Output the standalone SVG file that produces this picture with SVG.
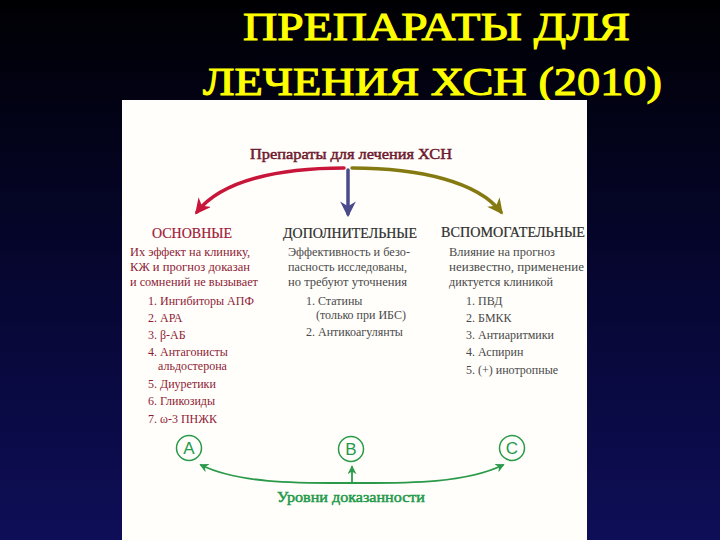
<svg xmlns="http://www.w3.org/2000/svg" width="720" height="540" viewBox="0 0 720 540">
<defs>
<linearGradient id="bg" x1="0" y1="0" x2="0" y2="1">
<stop offset="0" stop-color="#000003"/>
<stop offset="0.5" stop-color="#060630"/>
<stop offset="1" stop-color="#0e0e58"/>
</linearGradient>
<marker id="mRed" viewBox="0 0 10 10" refX="8" refY="5" markerWidth="4.5" markerHeight="4.5" orient="auto" markerUnits="strokeWidth"><path d="M0,0 L10,5 L0,10 L3,5 Z" fill="#c8163a"/></marker>
<marker id="mBlue" viewBox="0 0 10 10" refX="8" refY="5" markerWidth="4.5" markerHeight="4.5" orient="auto" markerUnits="strokeWidth"><path d="M0,0 L10,5 L0,10 L3,5 Z" fill="#4a4a8c"/></marker>
<marker id="mOlive" viewBox="0 0 10 10" refX="8" refY="5" markerWidth="4.5" markerHeight="4.5" orient="auto" markerUnits="strokeWidth"><path d="M0,0 L10,5 L0,10 L3,5 Z" fill="#857a12"/></marker>
<marker id="mGreen" viewBox="0 0 10 10" refX="8" refY="5" markerWidth="5" markerHeight="5" orient="auto" markerUnits="strokeWidth"><path d="M0,0 L10,5 L0,10 L3,5 Z" fill="#2a9a4a"/></marker>
</defs>
<style>
.title{font-family:"Liberation Serif","Times New Roman",serif;font-size:41px;fill:#ffff00;stroke:#ffff00;stroke-width:1.1;stroke-linejoin:miter}
.head{font-family:"Liberation Serif","Times New Roman",serif;font-size:15px;fill:#6e1a30;stroke:#6e1a30;stroke-width:0.5}
.colh{font-family:"Liberation Serif","Times New Roman",serif;font-size:14px;stroke-width:0.2}
.d{font-family:"Liberation Serif","Times New Roman",serif;font-size:12.5px}
.it{font-family:"Liberation Serif","Times New Roman",serif;font-size:12px}
.c1{fill:#a01838;stroke:#a01838}
.c1d{fill:#8e1c36}
.c2{fill:#2e2e2e;stroke:#2e2e2e}
.c2d{fill:#4a4a4a}
.gr{font-family:"Liberation Serif","Times New Roman",serif;font-size:14.5px;fill:#1f9a4a;stroke:#1f9a4a;stroke-width:0.5}
.circ{fill:none;stroke:#2a9a4a;stroke-width:1.5}
.let{font-family:"Liberation Sans",Arial,sans-serif;font-size:17px;fill:#1f9a4a;text-anchor:middle}
.arr{fill:none;stroke-linecap:round}
</style>
<rect x="0" y="0" width="720" height="540" fill="url(#bg)"/>
<g id="title">
<text class="title" x="243" y="40" textLength="387" lengthAdjust="spacingAndGlyphs">ПРЕПАРАТЫ ДЛЯ</text>
<text class="title" x="203" y="95" textLength="459" lengthAdjust="spacingAndGlyphs">ЛЕЧЕНИЯ ХСН (2010)</text>
</g>
<rect id="panel" x="122" y="100" width="465" height="440" fill="#fffefa"/>
<g id="header"><text class="head" x="250" y="159" textLength="202" lengthAdjust="spacingAndGlyphs">Препараты для лечения ХСН</text></g>
<g id="connectors">
<path class="arr" d="M344,168 C280,168 222,180 197,212" stroke="#c8163a" stroke-width="3.5" marker-end="url(#mRed)"/>
<path class="arr" d="M348,170 L348,214" stroke="#4a4a8c" stroke-width="3.5" marker-end="url(#mBlue)"/>
<path class="arr" d="M352,168 C420,168 478,182 501,212" stroke="#857a12" stroke-width="3.5" marker-end="url(#mOlive)"/>
<path class="arr" d="M352,483 C300,483 240,484 201,465" stroke="#2a9a4a" stroke-width="1.8" marker-end="url(#mGreen)"/>
<path class="arr" d="M352,483 C404,483 464,484 503,465" stroke="#2a9a4a" stroke-width="1.8" marker-end="url(#mGreen)"/>
<path class="arr" d="M352,483 L352,467" stroke="#2a9a4a" stroke-width="1.8" marker-end="url(#mGreen)"/>
</g>
<g id="col1">
<text class="colh c1" x="152" y="238" textLength="80" lengthAdjust="spacingAndGlyphs">ОСНОВНЫЕ</text>
<text class="d c1d" x="130" y="256" textLength="120" lengthAdjust="spacingAndGlyphs">Их эффект на клинику,</text>
<text class="d c1d" x="130" y="271" textLength="120" lengthAdjust="spacingAndGlyphs">КЖ и прогноз доказан</text>
<text class="d c1d" x="130" y="286" textLength="128" lengthAdjust="spacingAndGlyphs">и сомнений не вызывает</text>
<text class="it c1d" x="148" y="305">1. Ингибиторы АПФ</text>
<text class="it c1d" x="148" y="322">2. АРА</text>
<text class="it c1d" x="148" y="339">3. β-АБ</text>
<text class="it c1d" x="148" y="356">4. Антагонисты</text>
<text class="it c1d" x="158" y="370">альдостерона</text>
<text class="it c1d" x="148" y="388">5. Диуретики</text>
<text class="it c1d" x="148" y="405">6. Гликозиды</text>
<text class="it c1d" x="148" y="423">7. ω-3 ПНЖК</text>
</g>
<g id="col2">
<text class="colh c2" x="283" y="238" textLength="134" lengthAdjust="spacingAndGlyphs">ДОПОЛНИТЕЛЬНЫЕ</text>
<text class="d c2d" x="288" y="256" textLength="122" lengthAdjust="spacingAndGlyphs">Эффективность и безо-</text>
<text class="d c2d" x="288" y="271" textLength="119" lengthAdjust="spacingAndGlyphs">пасность исследованы,</text>
<text class="d c2d" x="288" y="286" textLength="119" lengthAdjust="spacingAndGlyphs">но требуют уточнения</text>
<text class="it c2d" x="306" y="305">1. Статины</text>
<text class="it c2d" x="316" y="319">(только при ИБС)</text>
<text class="it c2d" x="306" y="336">2. Антикоагулянты</text>
</g>
<g id="col3">
<text class="colh c2" x="441" y="237" textLength="144" lengthAdjust="spacingAndGlyphs">ВСПОМОГАТЕЛЬНЫЕ</text>
<text class="d c2d" x="449" y="256" textLength="106" lengthAdjust="spacingAndGlyphs">Влияние на прогноз</text>
<text class="d c2d" x="449" y="271" textLength="135" lengthAdjust="spacingAndGlyphs">неизвестно, применение</text>
<text class="d c2d" x="449" y="286" textLength="104" lengthAdjust="spacingAndGlyphs">диктуется клиникой</text>
<text class="it c2d" x="466" y="305">1. ПВД</text>
<text class="it c2d" x="466" y="322">2. БМКК</text>
<text class="it c2d" x="466" y="339">3. Антиаритмики</text>
<text class="it c2d" x="466" y="356">4. Аспирин</text>
<text class="it c2d" x="466" y="374">5. (+) инотропные</text>
</g>
<g id="nodeA"><circle class="circ" cx="189" cy="448" r="12.5"/><text class="let" x="189" y="454">A</text></g>
<g id="nodeB"><circle class="circ" cx="351" cy="449" r="12.5"/><text class="let" x="351" y="455">B</text></g>
<g id="nodeC"><circle class="circ" cx="512" cy="448" r="12.5"/><text class="let" x="512" y="454">C</text></g>
<g id="footer"><text class="gr" x="277" y="502" textLength="148" lengthAdjust="spacingAndGlyphs">Уровни доказанности</text></g>
</svg>
